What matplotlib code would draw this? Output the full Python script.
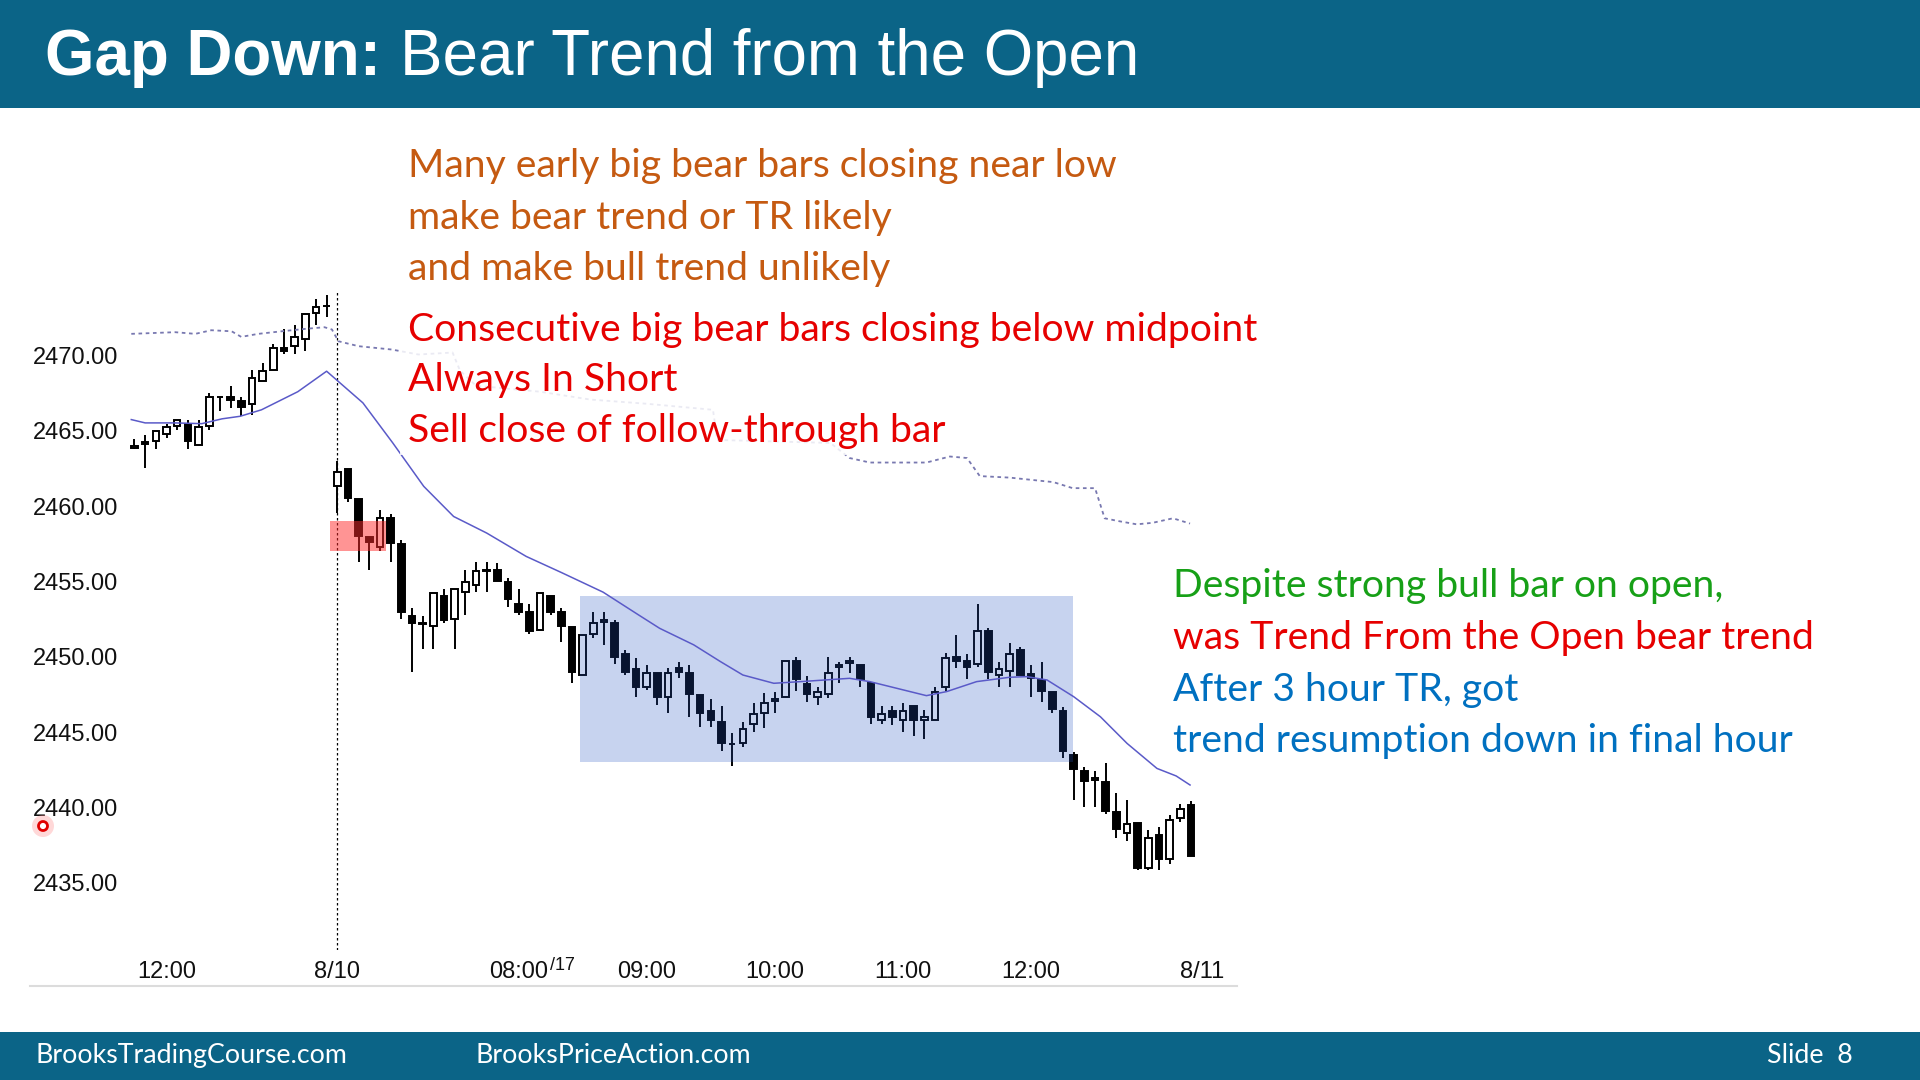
import numpy as np
import matplotlib
matplotlib.use("Agg")
from matplotlib import pyplot as plt
from matplotlib.patches import Rectangle, Ellipse
from matplotlib.lines import Line2D

# 5 min bars, index 0 = 11:45 (prior day), index 19 = first bar of 8/10 session
opens = [2463.85, 2464.25, 2464.30, 2464.82, 2465.35, 2465.48, 2464.09, 2465.35, 2467.25, 2467.23,
         2466.97, 2466.81, 2468.34, 2469.07, 2470.51, 2470.62, 2471.11, 2472.84, 2473.30, 2461.32,
         2462.48, 2460.49, 2457.95, 2457.29, 2459.22, 2457.49, 2452.73, 2452.20, 2452.02, 2454.01,
         2452.53, 2454.30, 2454.79, 2455.70, 2455.74, 2454.96, 2453.50, 2452.97, 2451.80, 2454.01,
         2452.97, 2452.00, 2448.80, 2451.53, 2452.30, 2452.24, 2450.20, 2449.20, 2448.03, 2448.96,
         2447.32, 2449.25, 2448.96, 2447.47, 2446.43, 2445.70, 2444.20, 2444.26, 2445.55, 2446.30,
         2447.05, 2447.32, 2449.72, 2448.20, 2447.32, 2447.54, 2449.31, 2449.58, 2449.47, 2448.25,
         2445.81, 2446.43, 2445.81, 2446.74, 2445.81, 2445.81, 2448.03, 2449.98, 2449.76, 2449.53,
         2451.73, 2448.80, 2449.09, 2450.47, 2448.87, 2448.47, 2447.70, 2446.43, 2443.49, 2442.45,
         2441.83, 2441.72, 2439.68, 2438.33, 2438.95, 2436.02, 2438.17, 2436.56, 2439.28, 2440.17]
highs = [2464.45, 2464.75, 2464.97, 2465.48, 2465.75, 2465.70, 2465.75, 2467.52, 2467.25, 2468.00,
         2467.25, 2469.03, 2469.51, 2470.78, 2471.77, 2472.02, 2472.75, 2473.77, 2474.05, 2462.98,
         2462.48, 2460.49, 2457.95, 2459.72, 2459.50, 2457.78, 2453.24, 2452.73, 2454.23, 2454.50,
         2454.50, 2455.74, 2456.27, 2456.27, 2456.23, 2455.23, 2454.50, 2453.50, 2454.23, 2454.01,
         2453.24, 2452.00, 2451.46, 2452.97, 2452.97, 2452.46, 2450.47, 2449.91, 2449.45, 2448.96,
         2449.25, 2449.69, 2449.47, 2447.47, 2447.19, 2446.74, 2444.93, 2445.70, 2446.96, 2447.59,
         2447.70, 2449.72, 2449.98, 2448.74, 2448.03, 2449.98, 2449.69, 2449.98, 2449.47, 2448.25,
         2446.74, 2446.74, 2446.97, 2446.74, 2446.48, 2447.98, 2450.24, 2451.46, 2450.20, 2453.50,
         2451.90, 2449.69, 2450.95, 2450.69, 2449.47, 2449.69, 2447.70, 2446.70, 2443.71, 2442.71,
         2442.45, 2442.98, 2440.99, 2440.50, 2438.95, 2438.50, 2438.73, 2439.50, 2440.23, 2440.45]
lows = [2463.82, 2462.55, 2463.80, 2464.53, 2465.08, 2463.80, 2464.09, 2465.08, 2466.35, 2466.52,
        2466.01, 2466.08, 2468.34, 2469.07, 2470.07, 2470.07, 2470.29, 2472.06, 2472.57, 2459.55,
        2460.28, 2456.27, 2455.78, 2457.05, 2456.27, 2452.53, 2449.03, 2450.51, 2450.51, 2452.24,
        2450.51, 2452.75, 2454.28, 2454.28, 2455.05, 2453.30, 2452.75, 2451.53, 2451.80, 2452.75,
        2451.02, 2448.30, 2448.80, 2451.24, 2450.80, 2449.53, 2448.80, 2447.32, 2447.81, 2446.81,
        2446.30, 2448.58, 2446.04, 2445.33, 2445.33, 2443.78, 2442.76, 2444.04, 2445.04, 2445.26,
        2446.26, 2447.32, 2447.76, 2447.03, 2446.81, 2447.25, 2448.30, 2448.91, 2448.03, 2445.55,
        2445.55, 2445.48, 2445.04, 2444.77, 2444.53, 2445.81, 2447.76, 2449.25, 2448.52, 2449.31,
        2448.52, 2448.03, 2448.03, 2448.80, 2447.32, 2447.03, 2446.30, 2443.27, 2440.50, 2440.01,
        2440.01, 2439.57, 2438.00, 2437.80, 2435.85, 2435.85, 2435.85, 2436.29, 2439.06, 2436.78]
closes = [2464.00, 2464.10, 2464.97, 2465.26, 2465.70, 2464.31, 2465.24, 2467.25, 2467.22, 2467.08,
          2466.57, 2468.49, 2469.00, 2470.51, 2470.29, 2471.24, 2472.75, 2473.23, 2473.26, 2462.25,
          2460.52, 2458.04, 2457.60, 2459.19, 2457.55, 2453.01, 2452.28, 2452.28, 2454.23, 2452.46,
          2454.50, 2454.96, 2455.72, 2455.75, 2455.05, 2453.83, 2453.01, 2451.75, 2454.23, 2453.01,
          2452.02, 2449.03, 2451.46, 2452.24, 2452.46, 2450.02, 2449.02, 2448.03, 2448.96, 2447.32,
          2448.96, 2449.02, 2447.54, 2446.26, 2445.81, 2444.26, 2444.24, 2445.19, 2446.21, 2446.96,
          2447.19, 2449.72, 2448.55, 2447.54, 2447.70, 2448.96, 2449.47, 2449.76, 2448.52, 2446.03,
          2446.21, 2446.03, 2446.43, 2445.81, 2445.99, 2447.70, 2449.96, 2449.76, 2449.31, 2451.73,
          2449.02, 2449.20, 2450.20, 2448.80, 2448.58, 2447.76, 2446.52, 2443.77, 2442.54, 2441.78,
          2441.94, 2439.79, 2438.55, 2438.90, 2436.02, 2437.95, 2436.56, 2439.20, 2439.94, 2436.78]

# 20 bar EMA (solid)
ema_x = [-0.3, 1.0, 3.8, 6.3, 8.2, 9.9, 11.9, 15.3, 18.0, 21.4, 24.2, 27.1, 29.9, 33.0, 36.7, 40.0,
         43.9, 47.2, 49.2, 52.4, 54.9, 57.0, 59.9, 62.4, 67.0, 68.9, 74.2, 76.1, 78.9, 82.0, 83.6,
         85.5, 88.0, 90.5, 93.0, 95.8, 97.6, 98.9]
ema_y = [2465.75, 2465.53, 2465.53, 2465.48, 2465.80, 2465.97, 2466.40, 2467.60, 2468.96, 2466.86,
         2464.20, 2461.32, 2459.32, 2458.22, 2456.67, 2455.60, 2454.30, 2452.80, 2451.90, 2450.80,
         2449.69, 2448.80, 2448.25, 2448.36, 2448.58, 2448.36, 2447.43, 2447.70, 2448.36, 2448.65,
         2448.69, 2448.47, 2447.36, 2446.03, 2444.26, 2442.60, 2442.10, 2441.50]

# higher time frame average (dotted)
slow_x = [-0.3, 3.8, 5.7, 7.2, 9.1, 10.0, 11.6, 13.8, 16.0, 17.8, 18.5, 19.1, 21.0, 24.1, 26.6,
          29.8, 30.5, 32.0, 38.0, 42.7, 48.0, 54.2, 54.6, 65.2, 67.0, 68.9, 74.2, 76.4, 78.0, 79.2,
          82.0, 86.1, 87.9, 90.0, 90.9, 92.3, 93.9, 95.4, 97.3, 98.9]
slow_y = [2471.44, 2471.55, 2471.44, 2471.68, 2471.61, 2471.24, 2471.44, 2471.61, 2471.77, 2471.88,
          2471.73, 2470.95, 2470.62, 2470.40, 2470.07, 2470.20, 2469.00, 2468.00, 2467.60, 2467.08,
          2466.80, 2466.40, 2464.40, 2464.20, 2463.20, 2462.90, 2462.90, 2463.30, 2463.20, 2462.00,
          2461.90, 2461.60, 2461.20, 2461.20, 2459.20, 2459.00, 2458.80, 2458.90, 2459.20, 2458.85]

tick_pos = [3, 19, 36, 48, 60, 72, 84, 100]
tick_labels = ["12:00", "8/10", "08:00", "09:00", "10:00", "11:00", "12:00", "8/11"]
price_ticks = [2435, 2440, 2445, 2450, 2455, 2460, 2465, 2470]

open_bar = 19
ft_zone = [18.3, 23.6, 2457.06, 2458.99]   # x0, x1, low, high
tr_zone = [41.7, 87.9, 2443.02, 2454.05]

orange_lines = ["Many early big bear bars closing near low",
                "make bear trend or TR likely",
                "and make bull trend unlikely"]
red_lines = ["Consecutive big bear bars closing below midpoint",
             "Always In Short",
             "Sell close of follow-through bar"]
right_lines = ["Despite strong bull bar on open,",
               "was Trend From the Open bear trend",
               "After 3 hour TR, got",
               "trend resumption down in final hour"]
right_colors = ["#17a017", "#e60000", "#0070c0", "#0070c0"]

W, H = 1920, 1080
HEADER = "#0b6487"
TXT_FONT = "Lato"
TXT_SIZE = 28.2


def fx(px):
    return px / W


def fy(py):
    return 1 - py / H


def draw_candles(ax):
    idx = np.arange(len(opens))
    o, hi, lo, c = (np.array(v) for v in (opens, highs, lows, closes))
    up = c >= o
    ax.vlines(idx, lo, hi, color="black", lw=1.4, zorder=2)
    body_lo = np.minimum(o, c)
    body_h = np.maximum(np.abs(c - o), 0.04)
    ax.bar(idx[up], body_h[up], bottom=body_lo[up], width=0.62, facecolor="white",
           edgecolor="black", lw=1.4, zorder=3)
    ax.bar(idx[~up], body_h[~up], bottom=body_lo[~up], width=0.62, facecolor="black",
           edgecolor="black", lw=1.4, zorder=3)


fig = plt.figure(figsize=(19.2, 10.8), dpi=100)
fig.patch.set_facecolor("white")

ax = fig.add_axes([fx(125), fy(950), fx(1237) - fx(125), (950 - 290) / H])
ax.set_xlim(-0.89, 103.3)
ax.set_ylim(2430.55, 2474.35)

draw_candles(ax)
ax.plot(ema_x, ema_y, color="#5a5ac8", lw=1.1, zorder=5)
ax.plot(slow_x, slow_y, color="#7878b0", lw=1.3, ls=(0, (2, 2)), zorder=5)
ax.axvline(open_bar, color="black", lw=0.9, ls=(0, (2, 2)), zorder=1)

ax.add_patch(Rectangle((ft_zone[0], ft_zone[2]), ft_zone[1] - ft_zone[0], ft_zone[3] - ft_zone[2],
                       facecolor="#ff2a2a", alpha=0.5, lw=0, zorder=4))
ax.add_patch(Rectangle((tr_zone[0], tr_zone[2]), tr_zone[1] - tr_zone[0], tr_zone[3] - tr_zone[2],
                       facecolor="#2353c3", alpha=0.25, lw=0, zorder=4))

ax.set_yticks(price_ticks, [f"{p:.2f}" for p in price_ticks])
ax.set_xticks(tick_pos, tick_labels)
ax.tick_params(axis="y", length=0, pad=5, labelsize=17, labelcolor="#111111")
ax.tick_params(axis="x", length=0, pad=8, labelsize=17, labelcolor="#111111")
for lab in ax.get_xticklabels() + ax.get_yticklabels():
    lab.set_fontfamily("Liberation Sans")
for s in ax.spines.values():
    s.set_visible(False)
ax.annotate("/17", xy=(36, 0), xycoords=("data", "axes fraction"), xytext=(31, -16),
            textcoords="offset pixels", ha="left", va="center", fontsize=13,
            family="Liberation Sans", color="#111111")

fig.add_artist(Line2D([fx(30), fx(1237)], [fy(986), fy(986)], color="#dcdcdc", lw=1.5))

# header and footer bands
fig.add_artist(Rectangle((0, fy(108)), 1, 108 / H, facecolor=HEADER, lw=0, zorder=1))
fig.add_artist(Rectangle((0, 0), 1, 48 / H, facecolor=HEADER, lw=0, zorder=1))
t1 = fig.text(fx(45), fy(75), "Gap Down:", color="white", fontsize=45.8, weight="bold",
              family="Liberation Sans", va="baseline", zorder=3)
fig.canvas.draw()
bb = t1.get_window_extent(fig.canvas.get_renderer())
fig.text(bb.x1 / W + fx(19), fy(75), "Bear Trend from the Open", color="white", fontsize=45.8,
         family="Liberation Sans", va="baseline", zorder=3)

fig.text(fx(35), fy(1063), "BrooksTradingCourse.com", color="white", fontsize=19.3,
         family=TXT_FONT, va="baseline", zorder=3)
fig.text(fx(475), fy(1063), "BrooksPriceAction.com", color="white", fontsize=19.3,
         family=TXT_FONT, va="baseline", zorder=3)
fig.text(fx(1767), fy(1063), "Slide  8", color="white", fontsize=19.3,
         family=TXT_FONT, va="baseline", zorder=3)

# annotation text
fig.add_artist(Rectangle((fx(400), fy(455)), fx(1268) - fx(400), (455 - 300) / H,
                         facecolor="white", alpha=0.85, lw=0, zorder=2))
for i, line in enumerate(orange_lines):
    fig.text(fx(408), fy(177.5 + i * 51.4), line, color="#c55a11", fontsize=TXT_SIZE,
             family=TXT_FONT, va="baseline", zorder=3)
for i, line in enumerate(red_lines):
    fig.text(fx(408), fy(340.5 + i * 50.8), line, color="#e60000", fontsize=TXT_SIZE,
             family=TXT_FONT, va="baseline", zorder=3)
for i, line in enumerate(right_lines):
    fig.text(fx(1173), fy(597.5 + i * 51.5), line, color=right_colors[i], fontsize=TXT_SIZE,
             family=TXT_FONT, va="baseline", zorder=3)

# cursor mark
fig.add_artist(Ellipse((fx(43), fy(826)), 22 / W, 22 / H, facecolor="#ff9090", alpha=0.35, lw=0, zorder=3))
fig.add_artist(Ellipse((fx(43), fy(826)), 9 / W, 9 / H, facecolor="white", edgecolor="#e00000", lw=2, zorder=3))

fig.savefig("out.png", dpi=100)
